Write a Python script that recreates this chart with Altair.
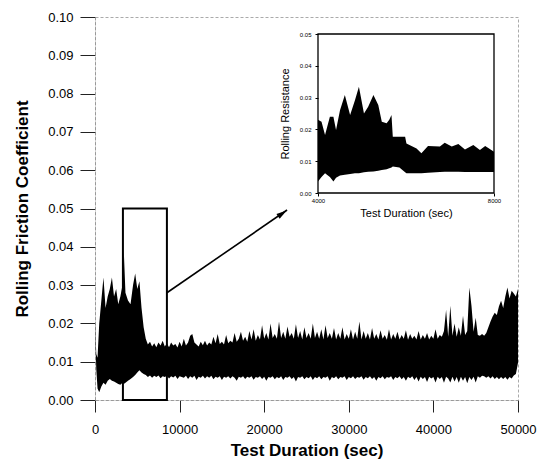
import altair as alt
import pandas as pd

# ---------------- data ----------------
# main trace: upper and lower edge of the noisy band
main_t = [0, 150, 300, 500, 750, 1000, 1250, 1500, 1750, 2000, 2250, 2500, 2750, 3000,
          3250, 3400, 3600, 3900, 4200, 4500, 4750, 5000, 5250, 5500, 5750,
          6000, 6250, 6500, 6750, 7000, 7250, 7500, 7750, 8000, 8250,
          8500, 8750, 9000, 9250, 9500, 9750, 10000, 10250, 10500, 10750,
          11000, 11250, 11500, 11750, 12000, 12250, 12500, 12750, 13000, 13250,
          13500, 13750, 14000, 14250, 14500, 14750, 15000, 15250, 15500, 15750,
          16000, 16250, 16500, 16750, 17000, 17250, 17500, 17750, 18000, 18250,
          18500, 18750, 19000, 19250, 19500, 19750, 20000, 20250, 20500, 20750,
          21000, 21250, 21500, 21750, 22000, 22250, 22500, 22750, 23000, 23250,
          23500, 23750, 24000, 24250, 24500, 24750, 25000, 25250, 25500, 25750,
          26000, 26250, 26500, 26750, 27000, 27250, 27500, 27750, 28000, 28250,
          28500, 28750, 29000, 29250, 29500, 29750, 30000, 30250, 30500, 30750,
          31000, 31250, 31500, 31750, 32000, 32250, 32500, 32750, 33000, 33250,
          33500, 33750, 34000, 34250, 34500, 34750, 35000, 35250, 35500, 35750,
          36000, 36250, 36500, 36750, 37000, 37250, 37500, 37750, 38000, 38250,
          38500, 38750, 39000, 39250, 39500, 39750, 40000, 40250, 40500, 40750,
          41000, 41250, 41500, 41750, 42000, 42250, 42500, 42750, 43000, 43250,
          43500, 43750, 44000, 44250, 44500, 44750, 45000, 45250, 45500, 45750,
          46000, 46250, 46500, 46750, 47000, 47250, 47500, 47750, 48000, 48250,
          48500, 48750, 49000, 49250, 49500, 49750, 50000]
main_upper = [0.0205, 0.012, 0.011, 0.020, 0.026, 0.032, 0.024, 0.027, 0.029, 0.032,
              0.027, 0.029, 0.025, 0.027, 0.030, 0.039, 0.028, 0.026, 0.025, 0.030,
              0.033, 0.029, 0.031, 0.024, 0.019,
              0.0160, 0.0145, 0.0152, 0.0140, 0.0148, 0.0138, 0.0150, 0.0142, 0.0155, 0.0140,
              0.0148, 0.0138, 0.0150, 0.0142, 0.0146, 0.0137, 0.0152, 0.0140, 0.0160, 0.0142,
              0.0150, 0.0168, 0.0172, 0.0150, 0.0145, 0.0140, 0.0152, 0.0143, 0.0155, 0.0142,
              0.0150, 0.0145, 0.0165, 0.0148, 0.0172, 0.0146, 0.0152, 0.0145, 0.0170, 0.0148,
              0.0155, 0.0150, 0.0175, 0.0152, 0.0160, 0.0178, 0.0155, 0.0165, 0.0152, 0.0180,
              0.0158, 0.0185, 0.0155, 0.0170, 0.0158, 0.0195, 0.0160, 0.0175, 0.0158, 0.0200,
              0.0162, 0.0172, 0.0160, 0.0205, 0.0162, 0.0178, 0.0160, 0.0192, 0.0165, 0.0175,
              0.0160, 0.0198, 0.0162, 0.0180, 0.0158, 0.0190, 0.0162, 0.0175, 0.0160, 0.0200,
              0.0162, 0.0178, 0.0160, 0.0185, 0.0158, 0.0195, 0.0162, 0.0175, 0.0160, 0.0188,
              0.0158, 0.0175, 0.0160, 0.0190, 0.0158, 0.0172, 0.0160, 0.0185, 0.0158, 0.0178,
              0.0160, 0.0205, 0.0158, 0.0180, 0.0160, 0.0175, 0.0158, 0.0188, 0.0160, 0.0172,
              0.0158, 0.0182, 0.0160, 0.0170, 0.0157, 0.0185, 0.0158, 0.0172, 0.0160, 0.0178,
              0.0158, 0.0170, 0.0160, 0.0182, 0.0157, 0.0172, 0.0160, 0.0168, 0.0158, 0.0180,
              0.0158, 0.0170, 0.0160, 0.0175, 0.0158, 0.0168, 0.0160, 0.0185, 0.0160, 0.0170,
              0.0165, 0.0180, 0.0235, 0.0165, 0.0246, 0.0168, 0.0200, 0.0165, 0.0190, 0.0168,
              0.0220, 0.0170, 0.0180, 0.0294, 0.0246, 0.0178, 0.0215, 0.0170, 0.0168, 0.0172,
              0.0168, 0.0175, 0.0190, 0.0205, 0.0218, 0.0228, 0.0222, 0.0245, 0.0259, 0.0240,
              0.0270, 0.0294, 0.0265, 0.0285, 0.0278, 0.0270, 0.0290]
main_lower = [0.0195, 0.008, 0.003, 0.002, 0.0035, 0.0045, 0.004, 0.005, 0.0055, 0.005,
              0.0048, 0.0045, 0.0042, 0.004, 0.0045, 0.0042, 0.0045, 0.005, 0.0055, 0.006,
              0.0065, 0.0072, 0.0078, 0.0072, 0.0068,
              0.0065, 0.0060, 0.0064, 0.0058, 0.0063, 0.0060, 0.0064, 0.0057, 0.0062, 0.0060,
              0.0063, 0.0056, 0.0062, 0.0059, 0.0063, 0.0055, 0.0062, 0.0060, 0.0058, 0.0063,
              0.0055, 0.0062, 0.0058, 0.0063, 0.0052, 0.0061, 0.0058, 0.0063, 0.0056, 0.0062,
              0.0058, 0.0063, 0.0054, 0.0061, 0.0058, 0.0062, 0.0052, 0.0061, 0.0058, 0.0062,
              0.0056, 0.0062, 0.0058, 0.0050, 0.0061, 0.0058, 0.0062, 0.0055, 0.0061, 0.0058,
              0.0062, 0.0053, 0.0060, 0.0058, 0.0062, 0.0055, 0.0061, 0.0050, 0.0060, 0.0058,
              0.0062, 0.0054, 0.0060, 0.0057, 0.0062, 0.0052, 0.0060, 0.0058, 0.0062, 0.0055,
              0.0060, 0.0048, 0.0060, 0.0058, 0.0062, 0.0054, 0.0060, 0.0057, 0.0062, 0.0052,
              0.0060, 0.0057, 0.0062, 0.0054, 0.0060, 0.0058, 0.0062, 0.0050, 0.0060, 0.0057,
              0.0062, 0.0054, 0.0060, 0.0058, 0.0062, 0.0052, 0.0060, 0.0057, 0.0062, 0.0055,
              0.0060, 0.0058, 0.0062, 0.0053, 0.0060, 0.0057, 0.0062, 0.0055, 0.0060, 0.0050,
              0.0060, 0.0057, 0.0062, 0.0054, 0.0060, 0.0058, 0.0062, 0.0052, 0.0060, 0.0057,
              0.0062, 0.0054, 0.0060, 0.0050, 0.0061, 0.0057, 0.0062, 0.0052, 0.0060, 0.0048,
              0.0061, 0.0055, 0.0060, 0.0047, 0.0061, 0.0056, 0.0060, 0.0046, 0.0061, 0.0055,
              0.0060, 0.0045, 0.0061, 0.0056, 0.0046, 0.0061, 0.0048, 0.0060, 0.0045, 0.0061,
              0.0050, 0.0060, 0.0044, 0.0060, 0.0052, 0.0061, 0.0046, 0.0062, 0.0058, 0.0063,
              0.0062, 0.0058, 0.0062, 0.0056, 0.0062, 0.0055, 0.0060, 0.0054, 0.0060, 0.0055,
              0.0060, 0.0053, 0.0060, 0.0056, 0.0064, 0.0068, 0.0097]

# inset trace (4000-8000 s)
inset_t = [4000, 4080, 4160, 4270, 4350, 4410, 4500, 4610, 4730, 4840, 4930, 5045, 5140,
           5260, 5370, 5450, 5560, 5620, 5670, 5700, 5850, 5980, 6010, 6240, 6350, 6500,
           6770, 6880, 7040, 7190, 7340, 7530, 7680, 7800, 8000]
inset_upper = [0.0230, 0.0224, 0.0182, 0.0240, 0.0240, 0.0198, 0.0260, 0.0308, 0.0245,
               0.0292, 0.0334, 0.0250, 0.0271, 0.0308, 0.0277, 0.0224, 0.0219, 0.0230,
               0.0245, 0.0177, 0.0177, 0.0177, 0.0156, 0.0140, 0.0125, 0.0148, 0.0146,
               0.0158, 0.0146, 0.0154, 0.0137, 0.0151, 0.0135, 0.0148, 0.0130]
inset_lower = [0.0036, 0.0050, 0.0062, 0.0050, 0.0036, 0.0048, 0.0055, 0.0057, 0.0060,
               0.0062, 0.0062, 0.0065, 0.0067, 0.0068, 0.0070, 0.0072, 0.0075, 0.0078,
               0.0080, 0.0083, 0.0080, 0.0065, 0.0062, 0.0062, 0.0062, 0.0064, 0.0066,
               0.0067, 0.0067, 0.0067, 0.0066, 0.0066, 0.0066, 0.0066, 0.0066]

main_x_ticks = [0, 10000, 20000, 30000, 40000, 50000]
main_y_ticks = [0.00, 0.01, 0.02, 0.03, 0.04, 0.05, 0.06, 0.07, 0.08, 0.09, 0.10]
inset_x_ticks = [4000, 8000]
inset_y_ticks = [0.00, 0.01, 0.02, 0.03, 0.04, 0.05]

box_x = [3300, 8500]
box_y = [0.0, 0.05]
arrow_x = [8500, 22700]
arrow_y = [0.028, 0.0496]
arrow_head_x = [22150]
arrow_head_y = [0.0487]

# ---------------- layout ----------------
W, H = 423, 383
FONT = "Liberation Sans"
INSET_X = [223, 399]
INSET_Y = [176, 17]


def xs():
    return alt.Scale(domain=[0, 50000], range=[0, W], nice=False, zero=False)


def ys():
    return alt.Scale(domain=[0, 0.1], range=[H, 0], nice=False, zero=False)


def ixs():
    return alt.Scale(domain=[4000, 8000], range=INSET_X, nice=False, zero=False)


def iys():
    return alt.Scale(domain=[0, 0.05], range=INSET_Y, nice=False, zero=False)


main_df = pd.DataFrame({"t": main_t, "up": main_upper, "lo": main_lower})
inset_df = pd.DataFrame({"t": inset_t, "up": inset_upper, "lo": inset_lower})
box_df = pd.DataFrame({"x1": [box_x[0]], "x2": [box_x[1]], "y1": [box_y[0]], "y2": [box_y[1]]})
arrow_df = pd.DataFrame({"x1": [arrow_x[0]], "x2": [arrow_x[1]], "y1": [arrow_y[0]], "y2": [arrow_y[1]]})
head_df = pd.DataFrame({"x": arrow_head_x, "y": arrow_head_y})
iframe_df = pd.DataFrame({"x1": [inset_x_ticks[0]], "x2": [inset_x_ticks[-1]],
                          "y1": [inset_y_ticks[0]], "y2": [inset_y_ticks[-1]]})

main_area = alt.Chart(main_df).mark_area(color="black", interpolate="linear").encode(
    x=alt.X("t:Q", scale=xs(), axis=alt.Axis(
        orient="bottom", values=main_x_ticks, format="d", title="Test Duration (sec)", grid=False,
        tickSize=12, tickColor="#222", domainColor="#999", domainDash=[3, 2],
        labelFont=FONT, labelFontSize=13, labelColor="black", labelPadding=11,
        titleFont=FONT, titleFontSize=17, titleFontWeight="bold", titleColor="black",
        titlePadding=6, labelFlush=False)),
    y=alt.Y("up:Q", scale=ys(), axis=alt.Axis(
        orient="left", values=main_y_ticks, format=".2f", title="Rolling Friction Coefficient",
        grid=False, tickSize=15, tickColor="#222", domainColor="#999", domainDash=[3, 2],
        labelFont=FONT, labelFontSize=13, labelColor="black", labelPadding=7,
        titleFont=FONT, titleFontSize=17, titleFontWeight="bold", titleColor="black",
        titlePadding=16, labelFlush=False)),
    y2="lo:Q",
)

box = alt.Chart(box_df).mark_rect(fillOpacity=0, stroke="black", strokeWidth=2).encode(
    x=alt.X("x1:Q", scale=xs(), axis=None), x2="x2:Q",
    y=alt.Y("y1:Q", scale=ys(), axis=None), y2="y2:Q",
)

arrow = alt.Chart(arrow_df).mark_rule(color="black", strokeWidth=1.6).encode(
    x=alt.X("x1:Q", scale=xs(), axis=None), x2="x2:Q",
    y=alt.Y("y1:Q", scale=ys(), axis=None), y2="y2:Q",
)

head = alt.Chart(head_df).mark_point(
    shape="M0,-1L0.55,1L-0.55,1Z", filled=True, color="black", opacity=1, size=110, angle=56
).encode(
    x=alt.X("x:Q", scale=xs(), axis=None),
    y=alt.Y("y:Q", scale=ys(), axis=None),
)

inset_area = alt.Chart(inset_df).mark_area(color="black", interpolate="linear").encode(
    x=alt.X("t:Q", scale=ixs(), axis=alt.Axis(
        orient="bottom", offset=-(H - INSET_Y[0]), values=inset_x_ticks, format="d",
        title="Test Duration (sec)", grid=False, domain=False, tickSize=3, tickColor="black",
        labelFont=FONT, labelFontSize=6, labelColor="black", labelPadding=1,
        titleFont=FONT, titleFontSize=11, titleFontWeight="normal", titleColor="black",
        titlePadding=4, labelFlush=False)),
    y=alt.Y("up:Q", scale=iys(), axis=alt.Axis(
        orient="left", offset=-INSET_X[0], values=inset_y_ticks, format=".2f",
        title="Rolling Resistance", grid=False, domain=False, tickSize=3, tickColor="black",
        labelFont=FONT, labelFontSize=6, labelColor="black", labelPadding=4,
        titleFont=FONT, titleFontSize=11, titleFontWeight="normal", titleColor="black",
        titlePadding=9, labelFlush=False)),
    y2="lo:Q",
)

inset_frame = alt.Chart(iframe_df).mark_rect(fillOpacity=0, stroke="black", strokeWidth=1.3).encode(
    x=alt.X("x1:Q", scale=ixs(), axis=None), x2="x2:Q",
    y=alt.Y("y1:Q", scale=iys(), axis=None), y2="y2:Q",
)

chart = alt.layer(main_area, box, arrow, head, inset_area, inset_frame).resolve_scale(
    x="independent", y="independent"
).resolve_axis(x="independent", y="independent").properties(
    width=W, height=H,
    autosize=alt.AutoSizeParams(type="none"),
    padding={"left": 95, "top": 17, "right": 25, "bottom": 64},
    background="white",
).configure_view(stroke="#aaa", strokeDash=[3, 2], strokeWidth=1)

chart.save("out.html", embed_options={"renderer": "svg", "actions": False})
